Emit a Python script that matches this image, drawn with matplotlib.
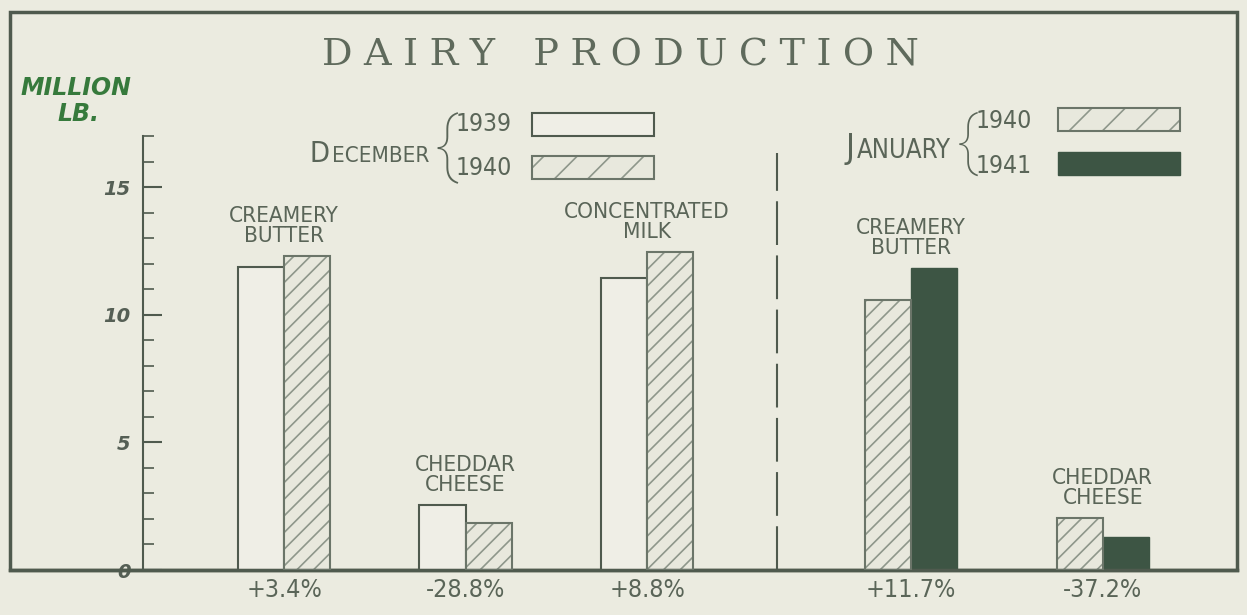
import os
import matplotlib
matplotlib.use('Agg')
import matplotlib.pyplot as plt
import numpy as np
from matplotlib.patches import Rectangle
from matplotlib import font_manager as fm
from matplotlib.font_manager import FontProperties

# data (million lb.)
labels = ['CREAMERY\nBUTTER', 'CHEDDAR\nCHEESE', 'CONCENTRATED\nMILK',
          'CREAMERY\nBUTTER', 'CHEDDAR\nCHEESE']
older = [11.9, 2.55, 11.45, 10.6, 2.05]    # Dec 1939 / Jan 1940
newer = [12.3, 1.85, 12.45, 11.85, 1.3]    # Dec 1940 / Jan 1941
changes = ['+3.4%', '-28.8%', '+8.8%', '+11.7%', '-37.2%']
older_style = ['open', 'open', 'open', 'hatch', 'hatch']
newer_style = ['hatch', 'hatch', 'hatch', 'dark', 'dark']
yticks = [0, 5, 10, 15]
yticklabels = ['0', '5', '10', '15']

pos = np.array([0, 1, 2, 3.455, 4.51])
bw = 0.254
divider = 2.716

W, H = 1247, 615
bg = '#ebebe0'
ink = '#4f5a4e'
txt = '#5a6558'
green = '#367a3c'
dark = '#3d5544'
hatchc = '#8e978b'


# look for a narrow / condensed face, the lettering on the original is condensed
def find_narrow():
    prefs = ['liberationsansnarrow-regular', 'notosans-condensed.',
             'dejavusanscondensed.', 'robotocondensed-regular',
             'opensans_condensed-regular', 'opensanscondensed-regular']
    files = [f.fname for f in fm.fontManager.ttflist]
    for p in prefs:
        for f in files:
            if p in os.path.basename(f).lower():
                return f
    return None


narrow_file = find_narrow()


def nfp(size):
    if narrow_file:
        return FontProperties(fname=narrow_file, size=size)
    return FontProperties(family='Roboto', size=size)


plt.rcParams['hatch.linewidth'] = 1.2

fig = plt.figure(figsize=(W / 100, H / 100), dpi=100)
fig.patch.set_facecolor(bg)
renderer = fig.canvas.get_renderer()


def fit(s, target):
    # font size that makes string s about target px wide
    t = fig.text(0, 0, s, fontproperties=nfp(10))
    w = t.get_window_extent(renderer).width
    t.remove()
    return 10 * target / w


def fx(x):
    return x / W


def fy(y):
    return 1 - y / H


cat_size = fit('CREAMERY', 110)
pct_size = fit('+3.4%', 76)
year_size = fit('1940', 56)

ax = fig.add_axes([fx(10), fy(570), (1237 - 10) / W, (570 - 12) / H])
ax.set_facecolor('none')
ax.set_xlim(-1.51, 5.25)
ax.set_ylim(0, 21.88)


def draw(x, h, style):
    if style == 'open':
        ax.bar(x, h, bw, color='#efeee6', edgecolor=ink, linewidth=1.5, zorder=2)
    elif style == 'hatch':
        ax.bar(x, h, bw, color='#e8e8dd', edgecolor=hatchc, linewidth=0,
               hatch='//', zorder=2)
        ax.bar(x, h, bw, color='none', edgecolor='#6b7569', linewidth=1.5, zorder=3)
    else:
        ax.bar(x, h, bw, color=dark, edgecolor=dark, linewidth=1, zorder=2)


for i in range(len(pos)):
    draw(pos[i] - bw / 2, older[i], older_style[i])
    draw(pos[i] + bw / 2, newer[i], newer_style[i])
    top = max(older[i], newer[i])
    ax.text(pos[i], top + 0.4, labels[i], ha='center', va='bottom',
            fontproperties=nfp(cat_size), color=txt, linespacing=1.0)
    ax.text(pos[i], -0.8, changes[i], ha='center', va='center',
            fontproperties=nfp(pct_size), color=txt, clip_on=False)

ax.axvline(divider, ymin=0, ymax=16.35 / 21.88, color=ink, lw=1.5,
           ls=(0, (21, 5)))

# axes styling
for s in ['top', 'right']:
    ax.spines[s].set_visible(False)
ax.spines['left'].set_position(('data', -0.777))
ax.spines['left'].set_bounds(0, 17)
ax.spines['left'].set_color(ink)
ax.spines['left'].set_linewidth(1.5)
ax.spines['bottom'].set_color(ink)
ax.spines['bottom'].set_linewidth(2.5)
ax.set_xticks([])
ax.set_yticks(yticks)
ax.set_yticklabels(yticklabels, fontsize=14, style='italic', fontweight='bold',
                   color='#555f55')
ax.set_yticks(range(0, 18), minor=True)
ax.tick_params(axis='y', which='major', direction='in', length=14, width=1.5,
               color=ink, pad=9)
ax.tick_params(axis='y', which='minor', direction='in', length=8, width=1.2,
               color=ink)

# outer frame
fig.add_artist(Rectangle((fx(10), fy(570)), (1237 - 10) / W, (570 - 12) / H,
                         transform=fig.transFigure, fill=False, lw=2.5,
                         ec=ink, zorder=0))

# title
sp = '\u2009\u200a'
fig.text(fx(620), fy(55), sp.join('DAIRY') + '\u2003' + sp.join('PRODUCTION'),
         ha='center', va='center', fontsize=27.5, color='#5f6a5c',
         family=['DejaVu Serif'])

# y label
fig.text(fx(76), fy(88), 'MILLION', ha='center', va='center', fontsize=17,
         style='italic', fontweight='bold', color=green, family=['DejaVu Sans'])
fig.text(fx(78), fy(114), 'LB.', ha='center', va='center', fontsize=17,
         style='italic', fontweight='bold', color=green, family=['DejaVu Sans'])


# legends
def legend(word_x, word_y, first, rest, rest_w, brace_x, brace_y, brace_size,
           years, year_x, year_ys, sw_x, sw_ys, sw_styles):
    rs = fit(rest, rest_w)
    t = fig.text(fx(word_x), fy(word_y), first, ha='left', va='baseline',
                 fontproperties=nfp(rs * 1.3), color=txt)
    x1 = t.get_window_extent(renderer).x1
    fig.text((x1 + 2) / W, fy(word_y), rest, ha='left', va='baseline',
             fontproperties=nfp(rs), color=txt)
    fig.text(fx(brace_x), fy(brace_y), '{', ha='center', va='center',
             fontsize=brace_size, color=txt, family=['Roboto', 'DejaVu Sans'],
             fontweight='light')
    for yr, yy in zip(years, year_ys):
        fig.text(fx(year_x), fy(yy), yr, ha='left', va='center',
                 fontproperties=nfp(year_size), color=txt)
    w, h = 122 / W, 23 / H
    for yy, st in zip(sw_ys, sw_styles):
        x0, y0 = fx(sw_x), fy(yy + 11.5)
        if st == 'open':
            fig.add_artist(Rectangle((x0, y0), w, h, transform=fig.transFigure,
                                     fc='#efeee6', ec=ink, lw=1.5))
        elif st == 'hatch':
            fig.add_artist(Rectangle((x0, y0), w, h, transform=fig.transFigure,
                                     fc='#e8e8dd', ec=hatchc, lw=0, hatch='/'))
            fig.add_artist(Rectangle((x0, y0), w, h, transform=fig.transFigure,
                                     fill=False, ec='#6b7569', lw=1.5))
        else:
            fig.add_artist(Rectangle((x0, y0), w, h, transform=fig.transFigure,
                                     fc=dark, ec=dark, lw=1))


legend(310, 162, 'D', 'ECEMBER', 97, 446, 148, 52, ['1939', '1940'], 456,
       [124, 168], 532, [124, 167], ['open', 'hatch'])
legend(846, 158, 'J', 'ANUARY', 94, 967, 144, 47, ['1940', '1941'], 976,
       [121, 166], 1058, [119, 163], ['hatch', 'dark'])

fig.savefig('out.png', dpi=100, facecolor=bg)
